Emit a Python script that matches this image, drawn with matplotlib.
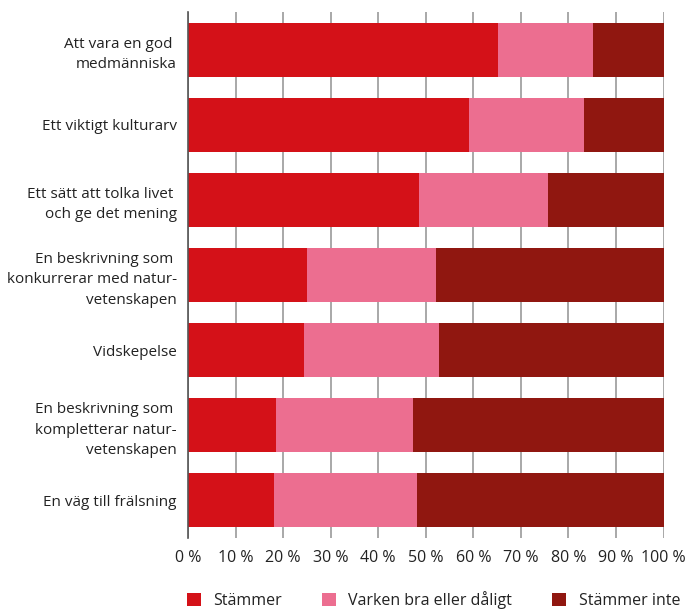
import matplotlib.pyplot as plt
from matplotlib.patches import Patch
import numpy as np

plt.rcParams['font.family'] = ['Open Sans', 'DejaVu Sans']

categories = [
    "Att vara en god \nmedmänniska",
    "Ett viktigt kulturarv",
    "Ett sätt att tolka livet \noch ge det mening",
    "En beskrivning som \nkonkurrerar med natur-\nvetenskapen",
    "Vidskepelse",
    "En beskrivning som \nkompletterar natur-\nvetenskapen",
    "En väg till frälsning",
]
stammer = [65.1, 59.1, 48.6, 25.0, 24.4, 18.5, 18.0]
varken = [20.1, 24.1, 27.1, 27.1, 28.4, 28.8, 30.1]
stammer_inte = [14.8, 16.8, 24.3, 47.9, 47.3, 52.7, 51.9]

series_names = ["Stämmer", "Varken bra eller dåligt", "Stämmer inte"]
colors = ["#D41118", "#EC6E90", "#901710"]
tick_values = list(range(0, 101, 10))
tick_labels = [f"{v} %" for v in tick_values]

text_color = "#222222"

fig = plt.figure(figsize=(6.9, 6.09), dpi=100)
ax = fig.add_axes([188 / 690, 1 - 538 / 609, 475.5 / 690, 526 / 609])

y = np.arange(len(categories))
left = np.zeros(len(categories))
for vals, name, col in zip([stammer, varken, stammer_inte], series_names, colors):
    ax.barh(y, vals, left=left, height=0.72, color=col, label=name, zorder=3)
    left += np.array(vals)

ax.set_ylim(len(categories) - 0.5, -0.5)
ax.set_xlim(0, 100)
ax.set_yticks(y)
ax.set_yticklabels(categories, fontsize=11, color=text_color, ha='right',
                   linespacing=1.5)
ax.set_xticks(tick_values)
ax.set_xticklabels(tick_labels, fontsize=11.5, color=text_color)
ax.tick_params(axis='y', length=0, pad=8)
ax.tick_params(axis='x', length=0, pad=9)

ax.grid(axis='x', color='#9a9a9a', linewidth=1.2, zorder=0)
for s in ['top', 'right', 'bottom']:
    ax.spines[s].set_visible(False)
ax.spines['left'].set_color('#555555')
ax.spines['left'].set_linewidth(1.2)
ax.spines['left'].set_zorder(4)

handles = [Patch(facecolor=c, label=n) for c, n in zip(colors, series_names)]
fig.legend(handles=handles, loc='center left', bbox_to_anchor=(187 / 690, 1 - 600 / 609),
           ncol=3, frameon=False, fontsize=11.5, handlelength=0.85, handleheight=0.85,
           columnspacing=2.5, handletextpad=0.8, borderpad=0, borderaxespad=0,
           labelcolor=text_color)

fig.savefig("out.png", dpi=100)
